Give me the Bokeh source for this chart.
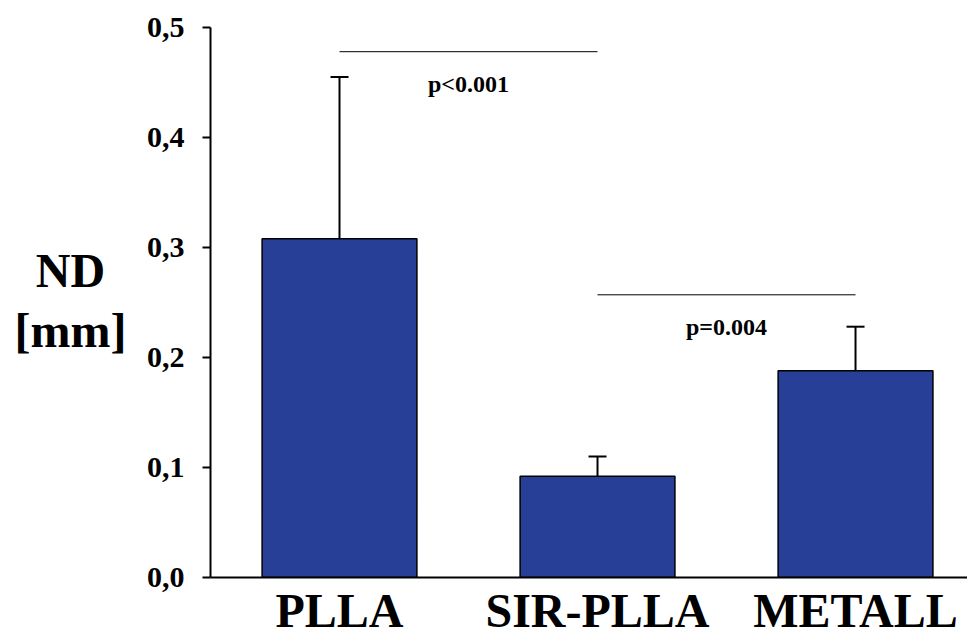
from bokeh.plotting import figure
from bokeh.layouts import row
from bokeh.models import (ColumnDataSource, Range1d, FixedTicker, CustomJSTickFormatter,
                          Whisker, TeeHead)
from bokeh.core.properties import value
from bokeh.embed import file_html
from bokeh.resources import INLINE

# ---- data ----
categories = ["PLLA", "SIR-PLLA", "METALL"]
means = [0.308, 0.092, 0.188]
errors = [0.147, 0.018, 0.040]
y_ticks = [0.0, 0.1, 0.2, 0.3, 0.4, 0.5]
sig_from = [0, 1]          # category index where bracket starts
sig_to = [1, 2]            # category index where bracket ends
sig_level = [0.478, 0.257]
sig_text = ["p<0.001", "p=0.004"]
y_title_lines = ["ND", "[mm]"]

FONT = "Liberation Serif"
BAR_COLOR = "#283F98"
H = 639
TOP, BOTTOM = 27, 62
TITLE_W = 140

y_range = Range1d(0, 0.5)

# ---- narrow figure holding the two-line y-axis title ----
t = figure(width=TITLE_W, height=H, output_backend="svg", toolbar_location=None,
           x_range=Range1d(0, TITLE_W), y_range=y_range,
           min_border_left=0, min_border_right=0,
           min_border_top=TOP, min_border_bottom=BOTTOM)
t.axis.visible = False
t.grid.visible = False
t.outline_line_color = None
t.text(x=[TITLE_W / 2] * 2, y=[0.279, 0.225], text=y_title_lines,
       text_font=value(FONT), text_font_style="bold", text_font_size="48px",
       text_align="center", text_baseline="alphabetic", text_color="black")

# ---- main bar chart ----
xs = [i + 0.5 for i in range(len(categories))]
src = ColumnDataSource(dict(x=xs, top=means,
                            upper=[m + e for m, e in zip(means, errors)]))

p = figure(width=967 - TITLE_W, height=H, output_backend="svg", toolbar_location=None,
           x_range=Range1d(0, 2.934), y_range=y_range,
           min_border_left=210 - TITLE_W, min_border_top=TOP,
           min_border_bottom=BOTTOM, min_border_right=0)
p.outline_line_color = None
p.grid.visible = False
p.background_fill_color = "white"

p.vbar(x="x", top="top", bottom=0, width=0.6, source=src,
       fill_color=BAR_COLOR, line_color="black", line_width=1.5)

p.add_layout(Whisker(base="x", upper="upper", lower="top", source=src,
                     upper_head=TeeHead(size=18, line_width=2, line_color="black"),
                     lower_head=None, line_width=2, line_color="black"))

sig_src = ColumnDataSource(dict(
    x0=[i + 0.5 for i in sig_from], x1=[i + 0.5 for i in sig_to],
    y=sig_level, xm=[(a + b) / 2 + 0.5 for a, b in zip(sig_from, sig_to)],
    ty=[v - 0.029 for v in sig_level], txt=sig_text))
p.segment(x0="x0", y0="y", x1="x1", y1="y", source=sig_src,
          line_color="black", line_width=1)
p.text(x="xm", y="ty", text="txt", source=sig_src, text_font=value(FONT),
       text_font_style="bold", text_font_size="24px", text_align="center",
       text_baseline="alphabetic", text_color="black")

# y axis
ya = p.yaxis[0]
ya.ticker = FixedTicker(ticks=y_ticks)
ya.formatter = CustomJSTickFormatter(code="return tick.toFixed(1).replace('.', ',');")
ya.major_label_text_font = FONT
ya.major_label_text_font_style = "bold"
ya.major_label_text_font_size = "30px"
ya.major_label_text_color = "black"
ya.major_label_standoff = 18
ya.major_tick_out = 8
ya.major_tick_in = 0
ya.minor_tick_out = 0
ya.minor_tick_in = 0
ya.axis_line_width = 2
ya.major_tick_line_width = 2
ya.axis_line_color = "black"

# x axis
xa = p.xaxis[0]
xa.ticker = FixedTicker(ticks=xs)
xa.formatter = CustomJSTickFormatter(args=dict(cats=categories),
                                     code="return cats[Math.floor(tick)];")
xa.major_label_text_font = FONT
xa.major_label_text_font_style = "bold"
xa.major_label_text_font_size = "48px"
xa.major_label_text_color = "black"
xa.major_label_standoff = 6
xa.major_tick_out = 0
xa.major_tick_in = 0
xa.minor_tick_out = 0
xa.minor_tick_in = 0
xa.axis_line_width = 2
xa.axis_line_color = "black"

layout = row(t, p, spacing=0)
open("out.html", "w").write(file_html(layout, INLINE))
